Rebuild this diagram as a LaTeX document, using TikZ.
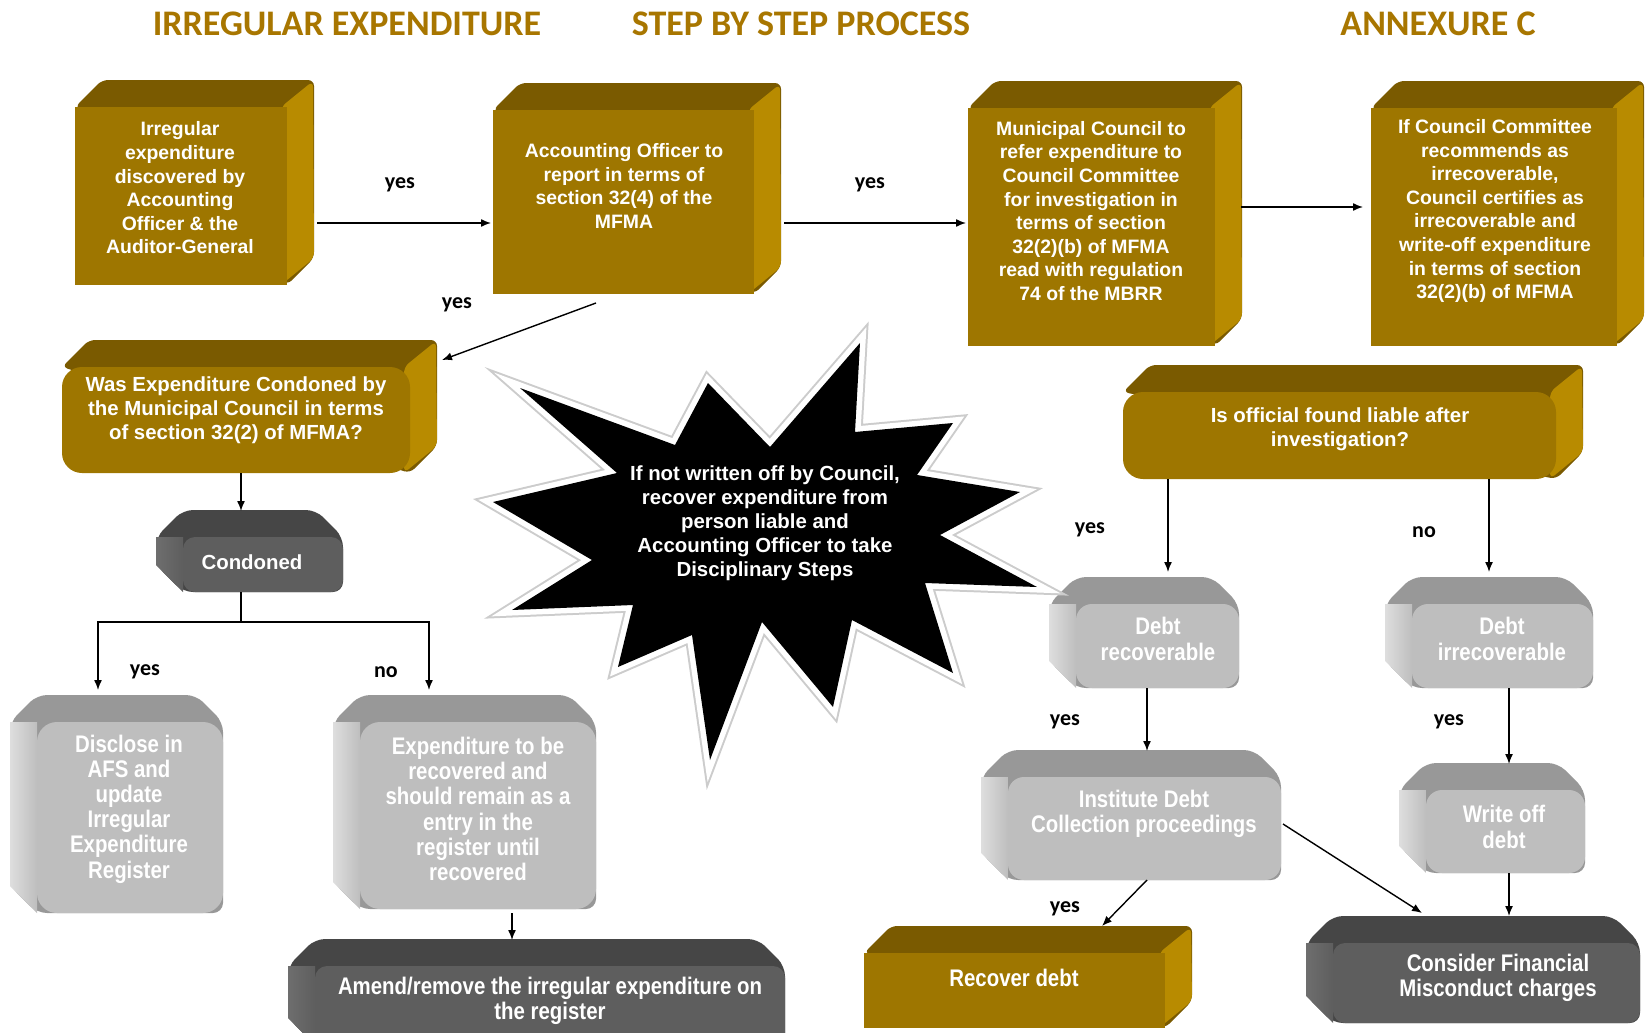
\documentclass[tikz,border=0pt]{standalone}
\usepackage{fontspec}
\setmainfont{Liberation Sans}
\newfontfamily\narrowfont[FakeStretch=0.85]{Liberation Sans}
\newfontfamily\calibrifont{Carlito}
\usetikzlibrary{arrows.meta,calc,fit}

\definecolor{goldfront}{RGB}{158,118,0}
\definecolor{goldtop}{RGB}{122,90,0}
\definecolor{goldside}{RGB}{184,139,0}
\definecolor{greyfront}{RGB}{190,190,190}
\definecolor{greytop}{RGB}{152,152,152}
\definecolor{greyside}{RGB}{222,222,222}
\definecolor{darkfront}{RGB}{94,94,94}
\definecolor{darktop}{RGB}{70,70,70}
\definecolor{darkside}{RGB}{110,110,110}
\definecolor{titlegold}{RGB}{168,118,0}

\tikzset{
  face/.style={inner sep=0pt, outer sep=0pt},
  boxtxt/.style={text=white, align=center, font=\bfseries\fontsize{9.7}{11.8}\selectfont},
  bigtxt/.style={text=white, align=center, font=\bfseries\fontsize{10.2}{12}\selectfont},
  narrowtxt/.style={text=white, align=center, font=\narrowfont\bfseries\fontsize{12}{12.6}\selectfont},
  lbl/.style={font=\calibrifont\bfseries\fontsize{11}{13}\selectfont},
  ttl/.style={text=titlegold, font=\calibrifont\bfseries\fontsize{18}{20}\selectfont},
  arr/.style={line width=0.7pt, -{Latex[length=5pt,width=4pt]}},
  conn/.style={line width=0.7pt},
}

\newcommand{\dep}{27}
% gold block, depth towards the upper right
\newcommand{\goldcube}[6][]{%
  \fill[goldtop, rounded corners=3pt] (#3,#4) -- ++(\dep,-\dep) -- ({#5+\dep},{#4-\dep}) -- ({#5+\dep},{#6-\dep}) -- (#5,#6) -- cycle;
  \fill[goldside, rounded corners=3pt] ({#5-6},#4) -- ({#5+\dep-1},{#4-\dep+1}) -- ({#5+\dep},{#6-\dep}) -- ({#5-6},#6) -- cycle;
  \node[face, fill=goldfront, fit={(#3,#4) (#5,#6)}, #1] (#2) {};}
% grey block, depth towards the upper left
\newcommand{\greycube}[7][]{%
  \fill[#2top, rounded corners=5pt] ({#4-\dep},#5) -- (#4,{#5-\dep}) -- ({#6-\dep},{#5-\dep}) -- (#6,#5) -- (#6,#7) -- (#4,#7) -- ({#4-\dep},{#7-\dep}) -- cycle;
  \shade[left color=#2side, right color=#2front] ({#4-\dep},#5) -- (#4,#5) -- (#4,#7) -- ({#4-\dep},{#7-\dep}) -- cycle;
  \node[face, fill=#2front, fit={(#4,#5) (#6,#7)}, #1] (#3) {};}

\begin{document}
\begin{tikzpicture}[x=0.5pt,y=-0.5pt]
\useasboundingbox (0,0) rectangle (1646,1033);
\clip (0,0) rectangle (1646,1033);

% titles
\node[ttl] (ttlleft) at (347,24) {IRREGULAR EXPENDITURE};
\node[ttl] (ttlmid) at (801,24) {STEP BY STEP PROCESS};
\node[ttl] (ttlright) at (1438,24) {ANNEXURE C};

% top row
\goldcube{discover}{75}{107}{287}{285}
\goldcube{report}{493}{110}{754}{294}
\goldcube{refer}{968}{108}{1215}{346}
\goldcube{certify}{1371}{108}{1617}{346}
\node[boxtxt] (discover-t) at (180,188) {Irregular\\expenditure\\discovered by\\Accounting\\Officer \& the\\Auditor-General};
\node[boxtxt] (report-t) at (624,186) {Accounting Officer to\\report in terms of\\section 32(4) of the\\MFMA};
\node[boxtxt] (refer-t) at (1091,211) {Municipal Council to\\refer expenditure to\\Council Committee\\for investigation in\\terms of section\\32(2)(b) of MFMA\\read with regulation\\74 of the MBRR};
\node[boxtxt] (certify-t) at (1495,211) {If Council Committee\\recommends as\\irrecoverable,\\Council certifies as\\irrecoverable and\\write-off expenditure\\in terms of section\\32(2)(b) of MFMA};

% left branch
\goldcube[rounded corners=10pt]{condone}{62}{367}{410}{473}
\node[bigtxt] (condone-t) at (236,410) {Was Expenditure Condoned by\\the Municipal Council in terms\\of section 32(2) of MFMA?};
\greycube[rounded corners=6pt]{dark}{condoned}{183}{537}{343}{592}
\node[bigtxt] (condoned-t) at (252,562) {Condoned};
\greycube[rounded corners=10pt]{grey}{disclose}{37}{722}{223}{913}
\node[narrowtxt] (disclose-t) at (129,809) {Disclose in\\AFS and\\update\\Irregular\\Expenditure\\Register};
\greycube[rounded corners=10pt]{grey}{recoverexp}{360}{722}{596}{909}
\node[narrowtxt] (recoverexp-t) at (478,809) {Expenditure to be\\recovered and\\should remain as a\\entry in the\\register until\\recovered};
\greycube[rounded corners=6pt]{dark}{amend}{315}{966}{785}{1045}
\node[narrowtxt] (amend-t) at (550,1001) {Amend/remove the irregular expenditure on\\the register};

% right branch
\goldcube[rounded corners=10pt]{liable}{1123}{392}{1556}{479}
\node[bigtxt] (liable-t) at (1340,429) {Is official found liable after\\investigation?};
\greycube[rounded corners=8pt]{grey}{debtrec}{1076}{604}{1239}{688}
\node[narrowtxt] (debtrec-t) at (1158,639) {Debt\\recoverable};
\greycube[rounded corners=8pt]{grey}{debtirr}{1412}{604}{1593}{688}
\node[narrowtxt] (debtirr-t) at (1502,639) {Debt\\irrecoverable};
\greycube[rounded corners=8pt]{grey}{institute}{1008}{777}{1281}{880}
\node[narrowtxt] (institute-t) at (1144,814) {Institute Debt\\Collection proceedings};
\greycube[rounded corners=8pt]{grey}{writeoff}{1426}{790}{1585}{873}
\node[narrowtxt] (writeoff-t) at (1504,827) {Write off\\debt};
\goldcube{recoverdebt}{864}{953}{1165}{1028}
\node[narrowtxt] (recoverdebt-t) at (1014,978) {Recover debt};
\greycube[rounded corners=6pt]{dark}{misconduct}{1333}{943}{1640}{1023}
\node[narrowtxt] (misconduct-t) at (1498,978) {Consider Financial\\Misconduct charges};

% burst
\fill[black, line join=miter,
  preaction={draw, gray!40, line width=7.5pt},
  preaction={draw, white, line width=5.5pt}]
  (520,388) -- (675,445) -- (708,383) -- (770,447) -- (860,343) -- (855,432)
  -- (953,423) -- (917,475) -- (1020,492) -- (940,535) -- (1037,587) -- (925,583)
  -- (953,673) -- (852,620) -- (833,707) -- (762,622) -- (710,760) -- (692,635)
  -- (618,667) -- (633,605) -- (512,610) -- (592,560) -- (493,502) -- (617,473) -- cycle;
\node[bigtxt] (burst) at (765,523) {If not written off by Council,\\recover expenditure from\\person liable and\\Accounting Officer to take\\Disciplinary Steps};

% connectors
\draw[arr] ($(discover.east)+(30,27)$) -- ($(report.west)+(-2,21)$);
\draw[arr] ($(report.east)+(30,21)$) -- ($(refer.west)+(-2,-4)$);
\draw[arr] ($(refer.east)+(26,-20)$) -- ($(certify.west)+(-8,-20)$);
\draw[arr] ($(report.south)+(-27.5,9)$) -- ($(condone.north east)+(32,-7)$);
\draw[arr] ($(condone.south)+(5,0)$) -- ($(condoned.north)+(-22,-26)$);
\draw[conn] ($(condoned.south)+(-22,0)$) -- ++(0,30) coordinate (split);
\draw[arr] (split) -| ($(disclose.north)+(-32,-32)$);
\draw[arr] (split) -| ($(recoverexp.north)+(-49,-32)$);
\draw[arr] ($(recoverexp.south)+(34,4)$) -- ($(amend.north)+(-38,-26)$);
\draw[arr] ($(liable.south)+(-171.5,0)$) -- ($(debtrec.north)+(10.5,-32)$);
\draw[arr] ($(liable.south)+(149.5,0)$) -- ($(debtirr.north)+(-13.5,-32)$);
\draw[arr] ($(debtrec.south)+(-10.5,0)$) -- ($(institute.north)+(2.5,-26)$);
\draw[arr] ($(debtirr.south)+(6.5,0)$) -- ($(writeoff.north)+(3.5,-26)$);
\draw[arr] ($(writeoff.south)+(3.5,0)$) -- ($(misconduct.north)+(22.5,-27)$);
\draw[arr] ($(institute.east)+(2,-4.5)$) -- ($(misconduct.north west)+(89,-30)$);
\draw[arr] ($(institute.south)+(2.5,0)$) -- ($(recoverdebt.north)+(87.5,-27)$);

% labels
\node[lbl] (yes1) at (400,185) {yes};
\node[lbl] (yes2) at (870,185) {yes};
\node[lbl] (yes3) at (457,305) {yes};
\node[lbl] (yes4) at (145,672) {yes};
\node[lbl] (no1) at (386,672) {no};
\node[lbl] (yes5) at (1090,530) {yes};
\node[lbl] (no2) at (1424,532) {no};
\node[lbl] (yes6) at (1065,722) {yes};
\node[lbl] (yes7) at (1449,722) {yes};
\node[lbl] (yes8) at (1065,909) {yes};
\end{tikzpicture}
\end{document}
